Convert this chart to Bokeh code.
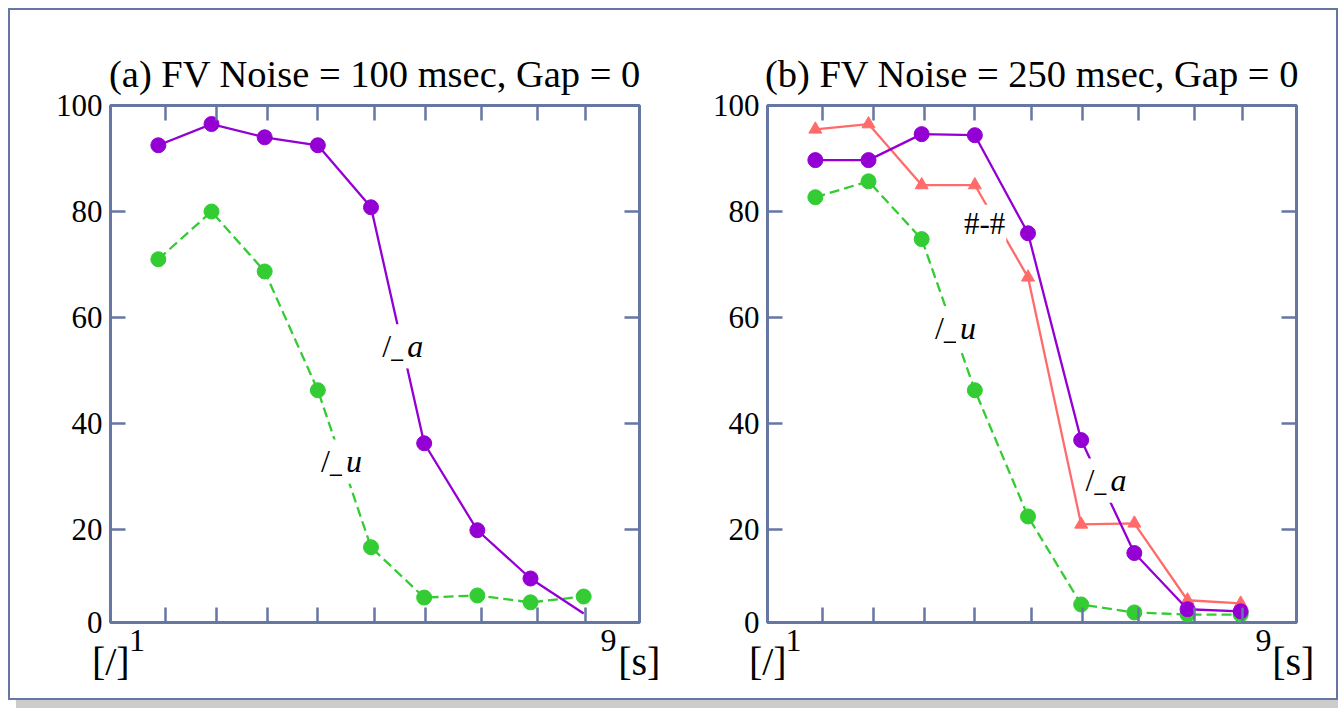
from bokeh.plotting import figure
from bokeh.models import Range1d, LinearAxis, FixedTicker, Label
from bokeh.layouts import row
from bokeh.embed import file_html
from bokeh.resources import INLINE

# ---------------- data ----------------
x_pos = [1, 2, 3, 4, 5, 6, 7, 8, 9]
x_tick_pos = [1.13, 2.09, 3.05, 4.0, 5.06, 6.03, 7.08, 8.13, 9.04]
y_ticks = [2.5, 20, 40, 60, 80, 100]
y_tick_labels = ["0", "20", "40", "60", "80", "100"]

a_purple = [92.5, 96.5, 94.0, 92.5, 80.8, 36.3, 19.9, 10.8, 4.2]
a_green = [71.0, 80.0, 68.7, 46.3, 16.7, 7.2, 7.6, 6.3, 7.4]

b_purple = [89.7, 89.7, 94.6, 94.4, 75.9, 36.9, 15.6, 5.0, 4.6]
b_red = [95.5, 96.5, 85.0, 85.0, 67.6, 21.0, 21.2, 6.7, 6.1]
b_green = [82.7, 85.7, 74.8, 46.3, 22.5, 5.9, 4.4, 4.0, 4.0]

title_a = "(a) FV Noise = 100 msec, Gap = 0"
title_b = "(b) FV Noise = 250 msec, Gap = 0"

axis_sup_labels = ["1", "9"]
axis_base_labels = ["[/]", "[s]"]

FONT = "Liberation Serif"
FRAME = "#6677a3"
PURPLE = "#9400d3"
GREEN = "#33cc33"
RED = "#ff6b6b"


def hidden_labels(ax):
    ax.major_label_text_font_size = "1px"
    ax.major_label_text_color = None
    ax.major_label_standoff = 0


def make_panel(title, left_border, right_border, sup_pos, base_pos):
    p = figure(width=663, height=688, output_backend="svg", toolbar_location=None,
               x_range=Range1d(0.1, 10.05), y_range=Range1d(2.5, 100),
               min_border_left=left_border, min_border_right=right_border,
               min_border_top=95, min_border_bottom=76,
               background_fill_color="white", border_fill_color="white")
    p.grid.visible = False
    p.outline_line_color = FRAME
    p.outline_line_width = 3
    p.outline_line_alpha = 1.0

    p.title.text = title
    p.title.align = "center"
    p.title.text_font = FONT
    p.title.text_font_size = "38.5px"
    p.title.text_font_style = "normal"
    p.title.text_color = "black"
    p.title.standoff = 22

    # y axes
    yl = p.yaxis[0]
    yl.ticker = FixedTicker(ticks=y_ticks)
    yl.major_label_overrides = {t: s for t, s in zip(y_ticks, y_tick_labels)}
    yr = LinearAxis(ticker=FixedTicker(ticks=y_ticks))
    hidden_labels(yr)
    p.add_layout(yr, "right")
    # x axes (tick marks only)
    xb = p.xaxis[0]
    xb.ticker = FixedTicker(ticks=x_tick_pos)
    hidden_labels(xb)
    xt = LinearAxis(ticker=FixedTicker(ticks=x_tick_pos))
    hidden_labels(xt)
    p.add_layout(xt, "above")

    for ax in [yl, yr, xb, xt]:
        ax.axis_line_color = None
        ax.major_tick_line_color = FRAME
        ax.major_tick_line_width = 2.5
        ax.major_tick_in = 15
        ax.major_tick_out = 0
        ax.minor_tick_line_color = None
        ax.major_label_text_font = FONT
    yl.major_label_text_color = "black"
    yl.major_label_text_font_size = "31px"
    yl.major_label_standoff = 8

    # bottom texts: raised digits, then the bracket texts
    sup = LinearAxis(ticker=FixedTicker(ticks=sup_pos),
                     major_label_overrides={t: s for t, s in zip(sup_pos, axis_sup_labels)})
    base = LinearAxis(ticker=FixedTicker(ticks=base_pos),
                      major_label_overrides={t: s for t, s in zip(base_pos, axis_base_labels)})
    for ax, size, stand in [(sup, "32px", 1), (base, "40px", -21)]:
        ax.axis_line_color = None
        ax.major_tick_line_color = None
        ax.minor_tick_line_color = None
        ax.major_label_text_font = FONT
        ax.major_label_text_font_size = size
        ax.major_label_text_color = "black"
        ax.major_label_standoff = stand
        p.add_layout(ax, "below")
    return p


def add_label(p, x, y, parts, size="32px", pad=4):
    # parts: list of (text, style, dx)
    for text, style, dx in parts:
        p.add_layout(Label(x=x, y=y, x_offset=dx - 5, y_offset=10, text=text, text_font=FONT,
                           text_font_size=size, text_font_style=style,
                           text_color="black", text_baseline="alphabetic",
                           background_fill_color="white", padding=pad))


# ---------------- panel (a) ----------------
pa = make_panel(title_a, 100, 34, [0.6, 9.466], [0.105, 10.045])
pa.line(x_pos, a_green, line_color=GREEN, line_width=2.3, line_dash="10 5")
pa.scatter(x_pos, a_green, marker="circle", size=15, fill_color=GREEN, line_color=GREEN)
pa.line(x_pos, a_purple, line_color=PURPLE, line_width=2.3)
pa.scatter(x_pos[:-1], a_purple[:-1], marker="circle", size=15, fill_color=PURPLE, line_color=PURPLE)
add_label(pa, 5.23, 52.7, [("/_", "normal", 0), ("a", "italic", 25)])
add_label(pa, 4.08, 31.0, [("/_", "normal", 0), ("u", "italic", 25)])

# ---------------- panel (b) ----------------
pb = make_panel(title_b, 94, 40, [0.589, 9.43], [0.105, 9.99])
pb.line(x_pos, b_green, line_color=GREEN, line_width=2.3, line_dash="10 5")
pb.scatter(x_pos, b_green, marker="circle", size=15, fill_color=GREEN, line_color=GREEN)
pb.line(x_pos, b_red, line_color=RED, line_width=2.3)
pb.scatter(x_pos, b_red, marker="triangle", size=13, fill_color=RED, line_color=RED)
pb.line(x_pos, b_purple, line_color=PURPLE, line_width=2.3)
pb.scatter(x_pos, b_purple, marker="circle", size=15, fill_color=PURPLE, line_color=PURPLE)
add_label(pb, 3.87, 75.9, [("#-#", "normal", 0)], size="31px", pad=1)
add_label(pb, 3.27, 56.1, [("/_", "normal", 0), ("u", "italic", 25)])
add_label(pb, 6.10, 27.4, [("/_", "normal", 0), ("a", "italic", 25)])

layout = row(pa, pb, spacing=0, margin=(8, 0, 0, 8),
             styles={"border": "2px solid " + FRAME, "box-shadow": "8px 8px 0px #cccccc"})

open("out.html", "w").write(file_html(layout, INLINE))
